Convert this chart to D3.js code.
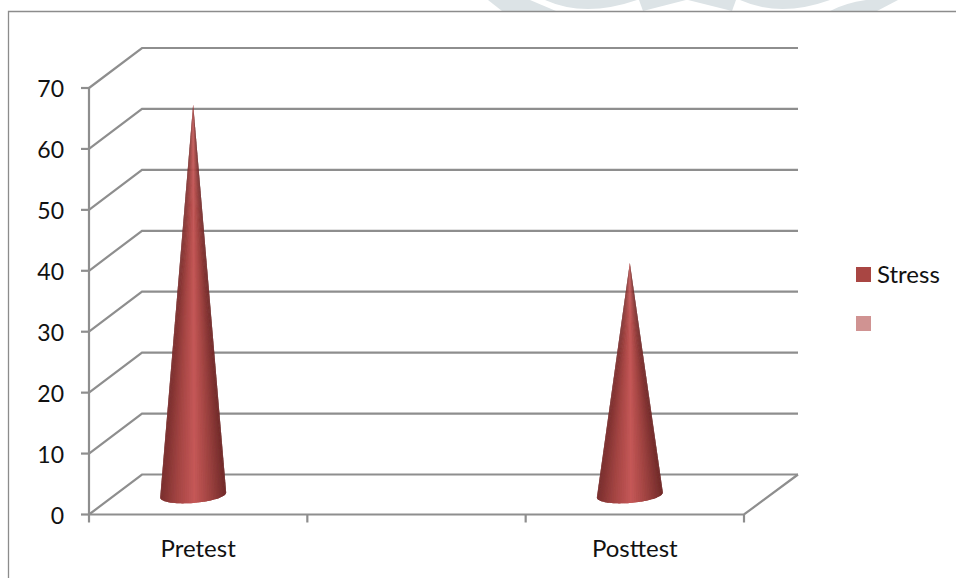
<!DOCTYPE html>
<html>
<head>
<meta charset="utf-8">
<script src="https://cdn.jsdelivr.net/npm/d3@7"></script>
<style>
  html, body { margin: 0; padding: 0; background: #fff; }
  text { font-family: Lato, "Open Sans", sans-serif; fill: #111; }
</style>
</head>
<body>
<div id="graph"></div>
<script>
// data
const categories = ["Pretest", "Posttest"];
const stress = [64, 38];
const seriesNames = ["Stress", ""];
const seriesColors = ["#a94643", "#d09392"];
const yTicks = [0, 10, 20, 30, 40, 50, 60, 70];

const width = 956, height = 578;

const svg = d3.select("#graph").append("svg")
    .attr("width", width)
    .attr("height", height)
    .style("display", "block");

// 3d chart box
const depthX = 53, depthY = -40;
const xScale = d3.scaleBand().domain([0, 1, 2]).range([89, 744]);
const yScale = d3.scaleLinear().domain([0, 70]).range([514.5, 88]);

// cone shading, left edge to right edge
const shade = d3.scaleLinear()
    .domain([0, 0.25, 0.52, 0.75, 1])
    .range(["#792e2d", "#a24442", "#c55857", "#a04341", "#702a29"]);

// slight blur, the reference is a soft screenshot
svg.append("defs").append("filter")
    .attr("id", "soft")
    .append("feGaussianBlur")
    .attr("stdDeviation", 0.5);

// watermark bits showing above the frame
const watermark = [
    "M488,0L502,11H556L530,0Z",
    "M545,0Q585,18 637,0Z",
    "M639,0L643,11L686,0Z",
    "M688,0L732,11L736,0Z",
    "M740,0Q780,18 830,0Z",
    "M830,11Q845,3 866,0H898L877,11Z"
];
svg.selectAll("path.mark")
    .data(watermark)
    .join("path")
    .attr("class", "mark")
    .attr("fill", "#dce3e6")
    .attr("d", d => d);

// outer frame
svg.append("path")
    .attr("d", "M8.5,578V11.5H956")
    .attr("fill", "none")
    .attr("stroke", "#8c8c8c")
    .attr("stroke-width", 1.3);

const lineCol = "#8e8e8e";
const grid = svg.append("g").attr("fill", "none").attr("stroke", lineCol).attr("stroke-width", 2.2);

// gridlines up the side wall and along the back wall
grid.selectAll("path.grid")
    .data(yTicks)
    .join("path")
    .attr("class", "grid")
    .attr("d", d => {
        const y = yScale(d);
        return `M${xScale.range()[0]},${y}l${depthX},${depthY}H${xScale.range()[1] + depthX + 1}`;
    });

// floor edge on the right, front edge and y axis
grid.append("path")
    .attr("d", `M${xScale.range()[1] + depthX + 1},${yScale(0) + depthY}L${xScale.range()[1]},${yScale(0)}H${xScale.range()[0]}V${yScale(70)}`);

// y ticks
grid.selectAll("line.ytick")
    .data(yTicks)
    .join("line")
    .attr("class", "ytick")
    .attr("x1", 81).attr("x2", 89)
    .attr("y1", d => yScale(d)).attr("y2", d => yScale(d));

// x ticks
const xEdges = [0, 1, 2].map(i => xScale(i)).concat(xScale.range()[1]);
grid.selectAll("line.xtick")
    .data(xEdges)
    .join("line")
    .attr("class", "xtick")
    .attr("x1", d => d).attr("x2", d => d)
    .attr("y1", yScale(0)).attr("y2", yScale(0) + 8);

svg.selectAll("text.ylab")
    .data(yTicks)
    .join("text")
    .attr("class", "ylab")
    .attr("x", 64)
    .attr("y", d => yScale(d) + 9)
    .attr("text-anchor", "end")
    .attr("font-size", 23)
    .text(d => d);

// cones sit a little left of the band centre, base tilted slightly
const coneX = [xScale(0) + xScale.bandwidth() / 2 - 5, xScale(2) + xScale.bandwidth() / 2 - 5];
const coneBase = yScale(0) + depthY / 2;
const rx = 33, ry = 8, tilt = 2.5, sectors = 48;

// each cone is a fan of thin triangles so the shading runs up to the tip
// every triangle runs over the next one a bit, otherwise the seams show
const cones = svg.selectAll("g.cone")
    .data(stress)
    .join("g")
    .attr("class", "cone")
    .attr("filter", "url(#soft)");

cones.selectAll("path")
    .data((d, i) => d3.range(sectors).map(k => ({
        cx: coneX[i],
        tip: yScale(d) + depthY / 2,
        a: Math.PI * k / sectors,
        b: Math.PI * Math.min(k + 2, sectors) / sectors
    })))
    .join("path")
    .attr("d", s => {
        const px = a => s.cx - rx * Math.cos(a);
        const py = a => coneBase + 0.5 + tilt * Math.cos(a) + ry * Math.sin(a);
        return `M${s.cx},${s.tip}L${px(s.a)},${py(s.a)}L${px((s.a + s.b) / 2)},${py((s.a + s.b) / 2)}L${px(s.b)},${py(s.b)}Z`;
    })
    .attr("fill", s => shade((1 - Math.cos(s.a + Math.PI / sectors / 2)) / 2));

svg.selectAll("text.xlab")
    .data(categories)
    .join("text")
    .attr("class", "xlab")
    .attr("x", (d, i) => xScale(i * 2) + xScale.bandwidth() / 2)
    .attr("y", 557)
    .attr("text-anchor", "middle")
    .attr("font-size", 24)
    .text(d => d);

// legend
const legend = svg.selectAll("g.legend")
    .data(seriesNames)
    .join("g")
    .attr("class", "legend")
    .attr("transform", (d, i) => `translate(856,${267 + i * 49})`);
legend.append("rect")
    .attr("width", 15).attr("height", 15)
    .attr("fill", (d, i) => seriesColors[i]);
legend.append("text")
    .attr("x", 21).attr("y", 16)
    .attr("font-size", 24)
    .text(d => d);
</script>
</body>
</html>
